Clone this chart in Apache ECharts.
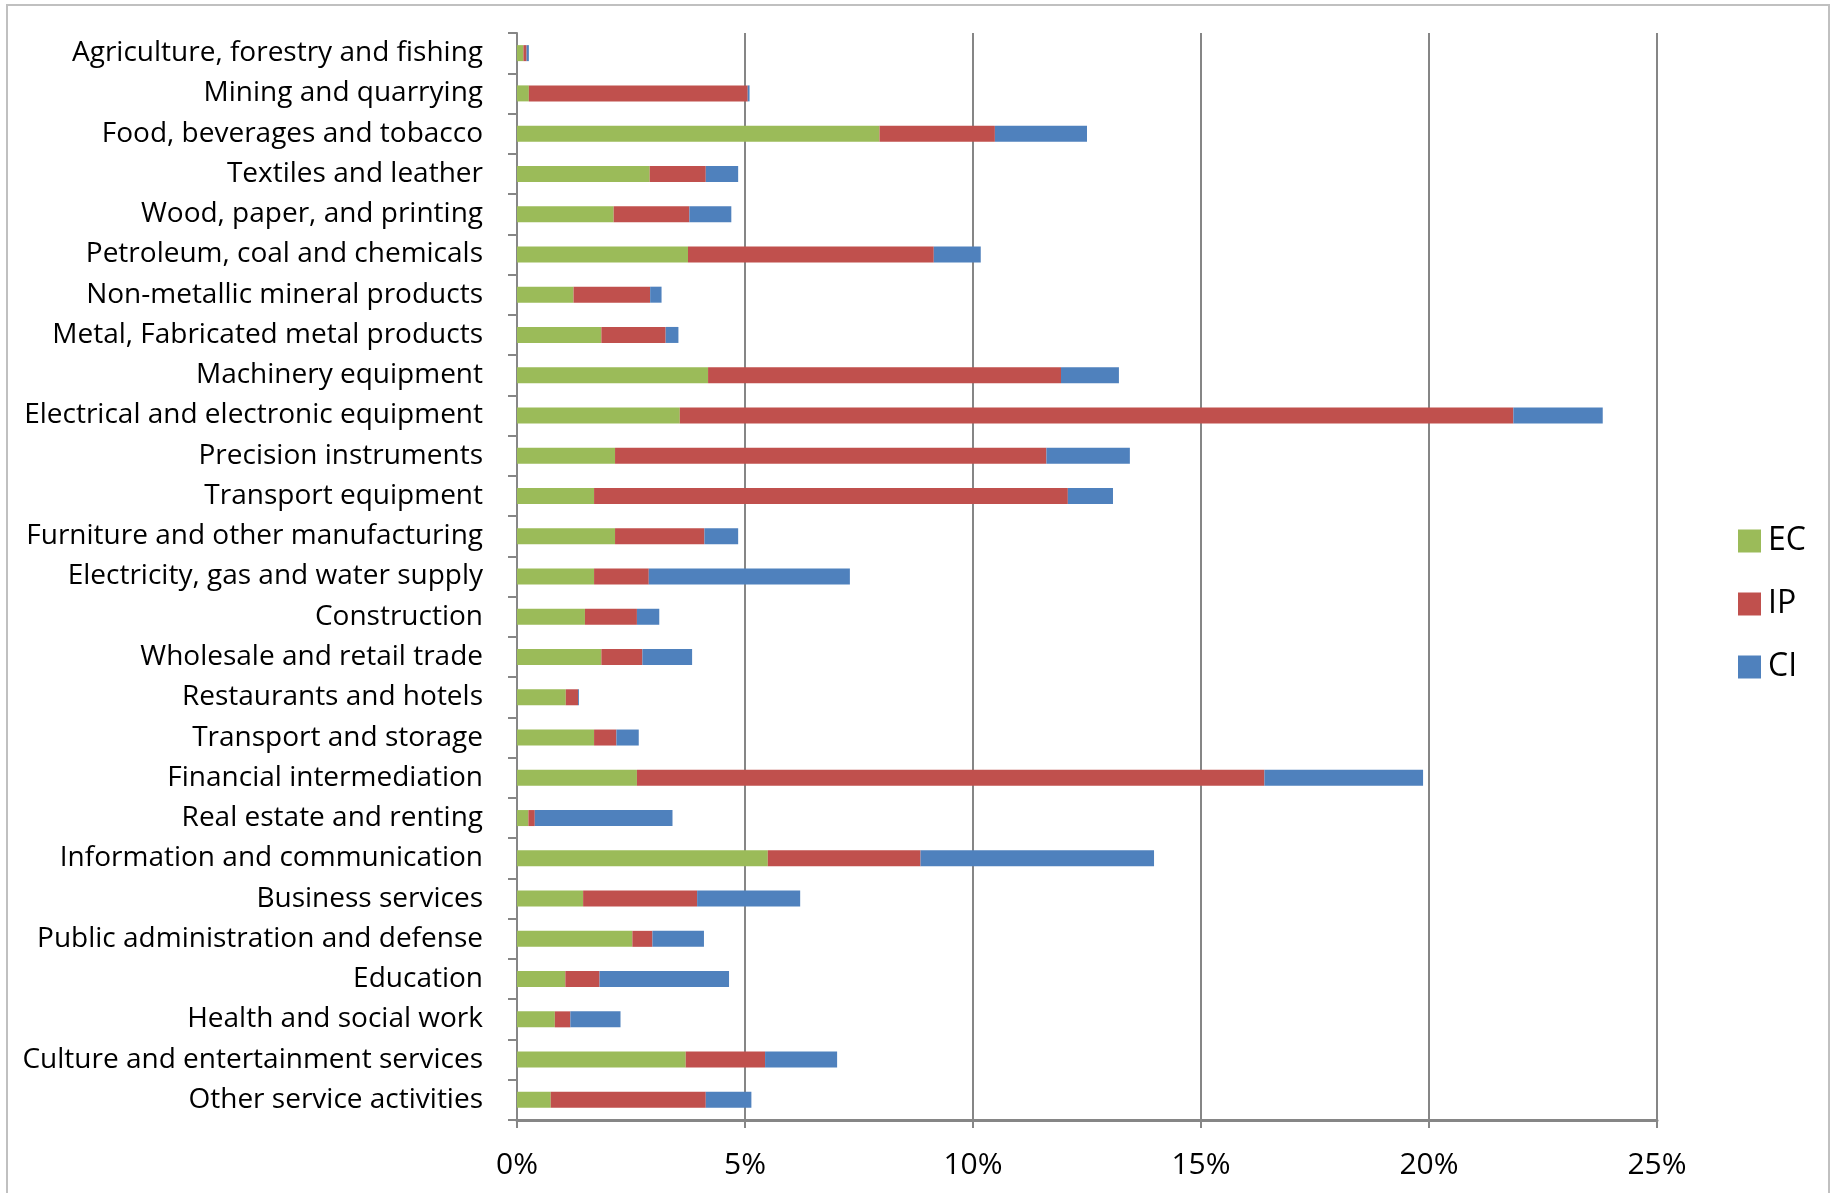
<!DOCTYPE html>
<html>
<head>
<meta charset="utf-8">
<script src="https://cdn.jsdelivr.net/npm/echarts@6/dist/echarts.min.js"></script>
<style>
  html, body { margin: 0; padding: 0; background: #fff; }
  #main { width: 1831px; height: 1193px; }
</style>
</head>
<body>
<div id="main"></div>
<script>
'use strict'
var sectors = [
    'Agriculture, forestry and fishing',
    'Mining and quarrying',
    'Food, beverages and tobacco',
    'Textiles and leather',
    'Wood, paper, and printing',
    'Petroleum, coal and chemicals',
    'Non-metallic mineral products',
    'Metal, Fabricated metal products',
    'Machinery equipment',
    'Electrical and electronic equipment',
    'Precision instruments',
    'Transport equipment',
    'Furniture and other manufacturing',
    'Electricity, gas and water supply',
    'Construction',
    'Wholesale and retail trade',
    'Restaurants and hotels',
    'Transport and storage',
    'Financial intermediation',
    'Real estate and renting',
    'Information and communication',
    'Business services',
    'Public administration and defense',
    'Education',
    'Health and social work',
    'Culture and entertainment services',
    'Other service activities'
];
// values in percent
var ecValues = [0.14, 0.26, 7.95, 2.91, 2.12, 3.75, 1.24, 1.85, 4.19, 3.57, 2.15, 1.69, 2.15,
    1.69, 1.49, 1.85, 1.07, 1.69, 2.63, 0.25, 5.50, 1.45, 2.53, 1.06, 0.83, 3.70, 0.74];
var ipValues = [0.07, 4.80, 2.53, 1.23, 1.66, 5.39, 1.68, 1.41, 7.74, 18.28, 9.46, 10.39, 1.96,
    1.20, 1.14, 0.90, 0.27, 0.49, 13.76, 0.14, 3.35, 2.50, 0.44, 0.75, 0.34, 1.74, 3.40];
var ciValues = [0.05, 0.04, 2.02, 0.71, 0.92, 1.03, 0.25, 0.28, 1.27, 1.96, 1.83, 0.99, 0.74,
    4.41, 0.49, 1.09, 0.02, 0.49, 3.48, 3.02, 5.12, 2.26, 1.13, 2.84, 1.10, 1.58, 1.00];
var xTicks = [0, 5, 10, 15, 20, 25];

var font = '"Open Sans", sans-serif';
var gray = '#868686';

var myChart = echarts.init(document.getElementById('main'));

function bar(name, color, data){
    return {
        name: name,
        type: 'bar',
        stack: 'total',
        barWidth: 16,
        itemStyle: { color: color },
        data: data
    };
}

myChart.setOption({
    animation: false,
    backgroundColor: '#fff',
    graphic: [{
        type: 'rect',
        shape: { x: 7, y: 5, width: 1822, height: 1200 },
        style: { fill: 'none', stroke: '#c0c0c0', lineWidth: 2 }
    }],
    legend: {
        orient: 'vertical',
        left: 1733,
        top: 520,
        itemWidth: 23,
        itemHeight: 23,
        itemGap: 31,
        icon: 'rect',
        textStyle: { fontFamily: font, fontSize: 32, color: '#000', padding: [0, 0, 0, 2] },
        data: ['EC', 'IP', 'CI']
    },
    grid: {
        left: 517,
        right: 174,
        top: 33,
        bottom: 73,
        containLabel: false
    },
    xAxis: {
        type: 'value',
        min: xTicks[0],
        max: xTicks[xTicks.length - 1],
        interval: 5,
        axisLine: { show: true, lineStyle: { color: gray, width: 3 } },
        axisTick: { show: true, length: 8, lineStyle: { color: gray, width: 2 } },
        axisLabel: {
            margin: 30,
            fontFamily: font,
            fontSize: 30,
            color: '#000',
            formatter: function(v){ return v + '%'; }
        },
        splitLine: { show: true, lineStyle: { color: gray, width: 2 } }
    },
    yAxis: {
        type: 'category',
        inverse: true,
        data: sectors,
        axisLine: { show: true, lineStyle: { color: gray, width: 2 } },
        axisTick: { show: true, length: 9, lineStyle: { color: gray, width: 2 } },
        axisLabel: {
            margin: 34,
            fontFamily: font,
            fontSize: 28,
            color: '#000',
            padding: [3, 0, 0, 0]
        }
    },
    series: [
        bar('EC', '#9BBB59', ecValues),
        bar('IP', '#C0504D', ipValues),
        bar('CI', '#4F81BD', ciValues)
    ]
});
</script>
</body>
</html>
